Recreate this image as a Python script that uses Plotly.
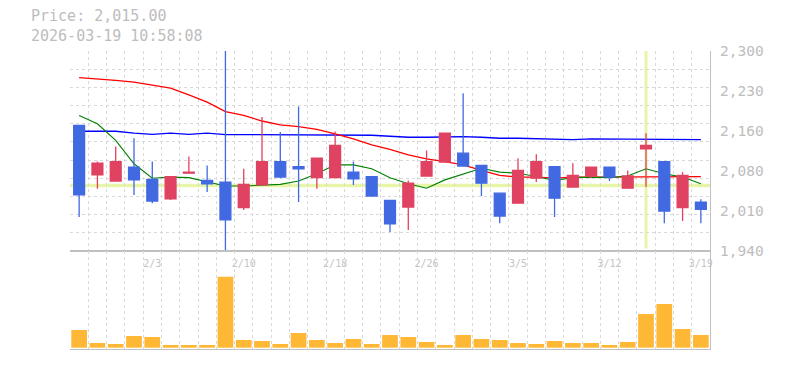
import plotly.graph_objects as go

# ---------------- data ----------------
DATES = ["1/28", "1/29", "1/30", "2/2", "2/3", "2/4", "2/5", "2/6", "2/9", "2/10",
         "2/12", "2/13", "2/16", "2/17", "2/18", "2/19", "2/20", "2/24", "2/25", "2/26",
         "2/27", "3/2", "3/3", "3/4", "3/5", "3/6", "3/9", "3/10", "3/11", "3/12",
         "3/13", "3/16", "3/17", "3/18", "3/19"]
OPEN = [2166, 2077, 2066, 2091, 2069, 2034, 2080, 2067, 2064, 2018,
        2059, 2101, 2092, 2072, 2072, 2082, 2074, 2031, 2019, 2075,
        2100, 2116, 2094, 2044, 2026, 2071, 2092, 2055, 2075, 2091,
        2053, 2124, 2101, 2018, 2028]
HIGH = [2166, 2101, 2128, 2143, 2101, 2075, 2110, 2094, 2310, 2088,
        2181, 2154, 2200, 2107, 2155, 2101, 2075, 2031, 2067, 2121,
        2152, 2224, 2094, 2044, 2107, 2114, 2093, 2098, 2091, 2091,
        2085, 2152, 2102, 2082, 2033]
LOW = [2001, 2052, 2066, 2041, 2026, 2032, 2080, 2046, 1938, 2014,
       2059, 2071, 2028, 2052, 2072, 2059, 2039, 1974, 1978, 2075,
       2100, 2093, 2039, 1990, 2026, 2064, 2001, 2055, 2071, 2066,
       2052, 2055, 1990, 1994, 1990]
CLOSE = [2041, 2098, 2101, 2068, 2030, 2074, 2082, 2061, 1996, 2060,
         2101, 2073, 2088, 2107, 2130, 2070, 2039, 1989, 2062, 2101,
         2152, 2093, 2062, 2003, 2085, 2101, 2035, 2076, 2091, 2073,
         2075, 2130, 2012, 2076, 2015]
MA_SHORT = [2184, 2169, 2139, 2097, 2071, 2073, 2072, 2065, 2057, 2057,
            2058, 2060, 2066, 2079, 2095, 2095, 2088, 2072, 2061, 2053,
            2068, 2079, 2089, 2082, 2080, 2074, 2067, 2072, 2073, 2072,
            2075, 2088, 2079, 2073, 2061]
MA_MID = [2252, 2250, 2247, 2244, 2239, 2233, 2221, 2208, 2191, 2184,
          2174, 2167, 2164, 2159, 2151, 2142, 2131, 2123, 2113, 2106,
          2101, 2095, 2085, 2076, 2073, 2073, 2071, 2073, 2073, 2073,
          2073, 2074, 2074, 2074, 2074]
MA_LONG = [2155.5, 2155.5, 2155.5, 2152, 2150, 2152, 2150, 2152, 2149.5, 2149.5,
           2149.5, 2148.3, 2148.3, 2148.3, 2148.3, 2148.3, 2148.3, 2146.5, 2144.7, 2144.7,
           2145.9, 2145.9, 2144.7, 2142.9, 2142.9, 2141.7, 2140.5, 2140.5, 2141.7, 2141.7,
           2141.7, 2141.7, 2141.7, 2141.7, 2140.5]
VOLUME = [177, 47, 37, 117, 107, 27, 27, 27, 710, 77,
          67, 37, 147, 77, 47, 87, 37, 127, 107, 57,
          27, 127, 87, 77, 47, 37, 67, 47, 47, 27,
          57, 337, 437, 187, 127]
DATE_TICK_IDX = [4, 9, 14, 19, 24, 29, 34]
DATE_TICK_TEXT = ["2/3", "2/10", "2/18", "2/26", "3/5", "3/12", "3/19"]
PRICE_TICK_VALS = [2300, 2228, 2156, 2084, 2012, 1940]
PRICE_TICK_TEXT = ["2,300", "2,230", "2,160", "2,080", "2,010", "1,940"]
PRICE_RANGE = [1940, 2300]
PRICE_GRID_COUNT = 11
VOLUME_RANGE = [-13, 967]
HIGHLIGHT_PRICE = 2058
HIGHLIGHT_IDX = 31
TITLE_LINES = ["Price: 2,015.00", "2026-03-19 10:58:08"]

# ---------------- styles ----------------
UP = "#e04262"
DOWN = "#4169e1"
VOL = "#ffb835"
HL = "#e6f5a8"
GRID = "#d9d9d9"
AXIS = "#c0c0c0"
TXT = "#bdbdbd"
MONO = "DejaVu Sans Mono"

X = list(range(len(DATES)))
xr = [-0.5, len(DATES) - 0.5]

fig = go.Figure()
fig.add_trace(go.Scatter(x=X, y=MA_LONG, mode="lines", line=dict(color="#0000ff", width=1.3),
                         xaxis="x", yaxis="y", hoverinfo="skip"))
fig.add_trace(go.Scatter(x=X, y=MA_MID, mode="lines", line=dict(color="#ff0000", width=1.3),
                         xaxis="x", yaxis="y", hoverinfo="skip"))
fig.add_trace(go.Scatter(x=X, y=MA_SHORT, mode="lines", line=dict(color="#008000", width=1.1),
                         xaxis="x", yaxis="y", hoverinfo="skip"))
fig.add_trace(go.Candlestick(
    x=X, open=OPEN, high=HIGH, low=LOW, close=CLOSE,
    increasing=dict(line=dict(color=UP, width=1.3), fillcolor=UP),
    decreasing=dict(line=dict(color=DOWN, width=1.3), fillcolor=DOWN),
    whiskerwidth=0, xaxis="x", yaxis="y3"))
fig.add_trace(go.Bar(x=X, y=VOLUME, marker=dict(color=VOL, line=dict(width=0)), width=0.86,
                     xaxis="x2", yaxis="y2"))

step = (PRICE_RANGE[1] - PRICE_RANGE[0]) / PRICE_GRID_COUNT
grid_vals = [PRICE_RANGE[0] + k * step for k in range(PRICE_GRID_COUNT + 1)]

split = 0.3289
minor_x = dict(tick0=-0.5, dtick=1, showgrid=True, gridcolor=GRID, griddash="3px,3px",
               gridwidth=1, ticks="")

fig.update_layout(
    width=785, height=370,
    margin=dict(l=70, r=75, t=51, b=21),
    paper_bgcolor="white", plot_bgcolor="white",
    showlegend=False, boxgap=0.15,
    xaxis=dict(domain=[0, 1], anchor="y", range=xr, tickvals=DATE_TICK_IDX,
               ticktext=DATE_TICK_TEXT, ticks="outside", ticklen=3,
               tickcolor="rgba(0,0,0,0)", tickfont=dict(family=MONO, size=10, color="#c4c4c4"),
               showgrid=False, minor=minor_x, showline=True, linecolor=AXIS, linewidth=1,
               zeroline=False, rangeslider=dict(visible=False)),
    yaxis=dict(domain=[split, 1], anchor="x", side="right", range=PRICE_RANGE,
               tickvals=grid_vals, showticklabels=False, ticks="", showgrid=True,
               gridcolor=GRID, griddash="3px,3px", gridwidth=1, showline=True,
               linecolor=AXIS, linewidth=1, zeroline=False),
    yaxis3=dict(overlaying="y", anchor="x", side="right", range=PRICE_RANGE,
                showticklabels=False, showgrid=False, zeroline=False, showline=False,
                ticks=""),
    xaxis2=dict(domain=[0, 1], anchor="y2", range=xr, showticklabels=False, ticks="",
                showgrid=False, minor=minor_x, showline=True, mirror=True,
                linecolor=AXIS, linewidth=1, zeroline=False),
    yaxis2=dict(domain=[0, split], anchor="x2", side="right", range=VOLUME_RANGE,
                showticklabels=False, ticks="", showgrid=False, zeroline=False,
                showline=True, linecolor=AXIS, linewidth=1),
)

fig.add_shape(type="line", xref="x domain", x0=0, x1=1, yref="y",
              y0=HIGHLIGHT_PRICE, y1=HIGHLIGHT_PRICE, layer="below",
              line=dict(color=HL, width=3.5))
fig.add_shape(type="line", xref="x", x0=HIGHLIGHT_IDX, x1=HIGHLIGHT_IDX, yref="y domain",
              y0=0.012, y1=1, layer="below", line=dict(color=HL, width=3))

for v, t in zip(PRICE_TICK_VALS, PRICE_TICK_TEXT):
    fig.add_annotation(xref="paper", x=1, xanchor="left", xshift=8, yref="y", y=v,
                       yanchor="middle", text=t, showarrow=False,
                       font=dict(family=MONO, size=14.5, color=TXT))

fig.add_annotation(xref="paper", x=(29 - 70) / 640, xanchor="left", yref="paper",
                   y=(349 - 25.5) / 298, yanchor="middle", align="left",
                   text="<br>".join(TITLE_LINES), showarrow=False,
                   font=dict(family=MONO, size=15, color=TXT))

fig.write_html("out.html")
